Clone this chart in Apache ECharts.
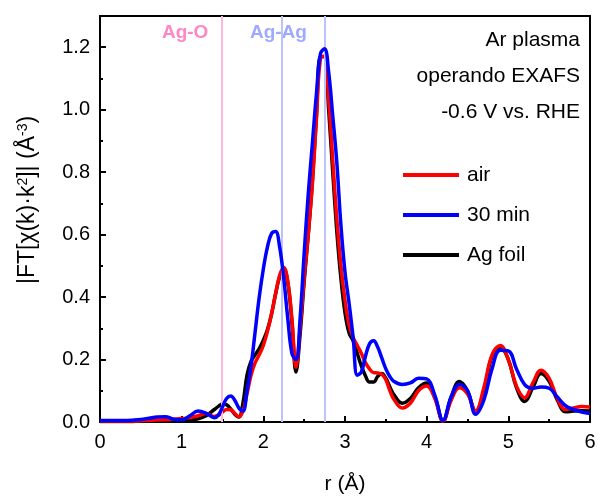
<!DOCTYPE html>
<html>
<head>
<meta charset="utf-8">
<script src="https://cdn.jsdelivr.net/npm/echarts@6/dist/echarts.min.js"></script>
<style>
html,body{margin:0;padding:0;background:#fff;}
#main{width:600px;height:502px;}
</style>
</head>
<body>
<div id="main"></div>
<script>
// r grid (Å)
const r = [0,0.1,0.2,0.3,0.4,0.5,0.6,0.7,0.8,0.9,1.0,1.1,1.2,1.3,1.4,
1.45,1.5,1.55,1.6,1.65,1.7,1.75,1.8,1.85,1.9,1.95,2.0,2.05,2.1,2.15,2.2,2.25,2.3,2.35,2.4,
2.45,2.5,2.55,2.6,2.65,2.7,2.75,2.8,2.85,2.9,2.95,3.0,3.05,3.1,3.15,3.2,3.25,3.3,3.35,3.4,
3.45,3.5,3.55,3.6,
3.7,3.8,3.9,4.0,4.1,4.2,4.3,4.4,4.5,4.6,4.7,4.8,4.9,5.0,5.1,5.2,5.3,5.4,5.5,5.6,5.7,5.8,5.9,6.0];

const air = [0.003,0.003,0.003,0.003,0.003,0.004,0.005,0.006,0.007,0.009,0.011,0.014,0.02,0.027,0.018,
0.022,0.032,0.04,0.039,0.028,0.017,0.035,0.09,0.15,0.19,0.215,0.245,0.29,0.345,0.41,0.47,0.495,0.45,0.33,0.175,
0.3,0.46,0.6,0.76,0.97,1.165,1.17,1.03,0.84,0.65,0.5,0.39,0.31,0.27,0.245,0.22,0.19,0.17,0.158,0.157,
0.153,0.135,0.1,0.072,
0.045,0.06,0.1,0.115,0.075,0.003,0.07,0.11,0.09,0.035,0.11,0.215,0.245,0.2,0.115,0.078,0.125,0.166,0.14,0.075,0.04,0.045,0.05,0.048];

const min30 = [0.005,0.005,0.005,0.005,0.006,0.008,0.012,0.016,0.017,0.009,0.007,0.02,0.035,0.028,0.014,
0.022,0.048,0.075,0.083,0.07,0.045,0.035,0.1,0.18,0.29,0.4,0.49,0.56,0.603,0.61,0.56,0.46,0.33,0.22,0.2,
0.33,0.54,0.73,0.89,1.05,1.18,1.195,1.12,0.98,0.83,0.63,0.48,0.38,0.27,0.15,0.16,0.21,0.25,0.26,0.24,
0.205,0.17,0.145,0.13,
0.12,0.125,0.14,0.138,0.085,0.005,0.08,0.12,0.1,0.025,0.07,0.17,0.23,0.228,0.17,0.12,0.108,0.112,0.108,0.08,0.052,0.04,0.032,0.027];

const agFoil = [0.002,0.002,0.002,0.002,0.002,0.003,0.003,0.003,0.004,0.004,0.005,0.007,0.01,0.02,0.04,
0.05,0.058,0.055,0.042,0.025,0.016,0.06,0.15,0.195,0.215,0.235,0.262,0.295,0.345,0.41,0.465,0.49,0.445,0.32,0.16,
0.28,0.45,0.6,0.77,0.98,1.17,1.17,1.0,0.8,0.61,0.46,0.35,0.285,0.26,0.22,0.18,0.148,0.128,0.128,0.146,
0.155,0.14,0.112,0.087,
0.06,0.075,0.11,0.125,0.08,0.003,0.08,0.13,0.1,0.03,0.1,0.21,0.24,0.2,0.11,0.066,0.11,0.155,0.13,0.07,0.033,0.035,0.036,0.035];

const refLines = [1.49, 2.22, 2.75];
const annot = ['Ar plasma','operando EXAFS','-0.6 V vs. RHE'];

const FONT = 'Liberation Sans, Arial, sans-serif';
const pair = (vals) => r.map((x,i)=>[x, vals[i]]);

const chart = echarts.init(document.getElementById('main'));
const lineW = 3.5;
chart.setOption({
  animation:false,
  backgroundColor:'#fff',
  textStyle:{fontFamily:FONT},
  grid:{left:100,right:10,top:16,bottom:80,show:true,borderColor:'#000',borderWidth:2,backgroundColor:'transparent'},
  xAxis:{
    type:'value',min:0,max:6,interval:1,
    name:'r (Å)',nameLocation:'middle',nameGap:52,
    nameTextStyle:{fontSize:21,color:'#000',fontFamily:FONT},
    axisLine:{lineStyle:{color:'#000',width:2}},
    axisTick:{inside:true,length:6,lineStyle:{color:'#000',width:2}},
    minorTick:{show:true,splitNumber:2,length:3,lineStyle:{color:'#000',width:2}},
    axisLabel:{fontSize:20,color:'#000',margin:10,fontFamily:FONT},
    splitLine:{show:false}
  },
  yAxis:{
    type:'value',min:0,max:1.3,interval:0.2,
    axisLine:{show:true,lineStyle:{color:'#000',width:2}},
    axisTick:{show:true,inside:true,length:6,lineStyle:{color:'#000',width:2}},
    minorTick:{show:true,splitNumber:2,length:3,lineStyle:{color:'#000',width:2}},
    axisLabel:{fontSize:20,color:'#000',margin:10,showMaxLabel:false,fontFamily:FONT,
      formatter:v=>v.toFixed(1)},
    splitLine:{show:false}
  },
  legend:{
    orient:'vertical',left:398,top:158,icon:'rect',itemWidth:56,itemHeight:4,itemGap:16,
    textStyle:{fontSize:21,color:'#000',fontFamily:FONT,padding:[0,0,0,3],lineHeight:24},
    data:['air','30 min','Ag foil']
  },
  series:[
    {type:'line',name:'refs',data:[],z:1,silent:true,
     markLine:{silent:true,symbol:'none',label:{show:false},
       data:[
         {xAxis:refLines[0],lineStyle:{color:'#ffb8da',width:2,type:'solid'}},
         {xAxis:refLines[1],lineStyle:{color:'#bcc3fb',width:2,type:'solid'}},
         {xAxis:refLines[2],lineStyle:{color:'#bcc3fb',width:2,type:'solid'}}
       ]}},
    {type:'line',name:'Ag foil',data:pair(agFoil),smooth:0.4,symbol:'none',z:3,
     lineStyle:{color:'#000',width:lineW},itemStyle:{color:'#000'}},
    {type:'line',name:'air',data:pair(air),smooth:0.4,symbol:'none',z:4,
     lineStyle:{color:'#ff0000',width:lineW},itemStyle:{color:'#ff0000'}},
    {type:'line',name:'30 min',data:pair(min30),smooth:0.4,symbol:'none',z:5,
     lineStyle:{color:'#0000ff',width:lineW},itemStyle:{color:'#0000ff'}}
  ]
});

const p1 = chart.convertToPixel({gridIndex:0},[1.42,1.245]);
const p2 = chart.convertToPixel({gridIndex:0},[2.24,1.245]);
chart.setOption({
  graphic:[
    {type:'text',left:p1[0]-54,top:p1[1]-10,style:{text:'Ag-O',fontSize:19,fontWeight:'bold',fill:'#ff85c4',fontFamily:FONT}},
    {type:'text',left:p2[0]-33,top:p2[1]-10,style:{text:'Ag-Ag',fontSize:19,fontWeight:'bold',fill:'#9fa9ff',fontFamily:FONT}},
    {type:'text',right:20,top:30,style:{text:annot[0],fontSize:21,fill:'#000',fontFamily:FONT,align:'right'}},
    {type:'text',right:20,top:66,style:{text:annot[1],fontSize:21,fill:'#000',fontFamily:FONT,align:'right'}},
    {type:'text',right:20,top:102,style:{text:annot[2],fontSize:21,fill:'#000',fontFamily:FONT,align:'right'}},
    {type:'text',x:28,y:200,rotation:Math.PI/2,
     style:{text:'|FT[χ(k)·k{s|2}]| (Å{s|-3})',fontSize:23,fill:'#000',fontFamily:FONT,
       align:'center',verticalAlign:'middle',
       rich:{s:{fontSize:14,verticalAlign:'top',lineHeight:14,padding:[0,0,10,0],fontFamily:FONT}}}}
  ]
});
</script>
</body>
</html>
